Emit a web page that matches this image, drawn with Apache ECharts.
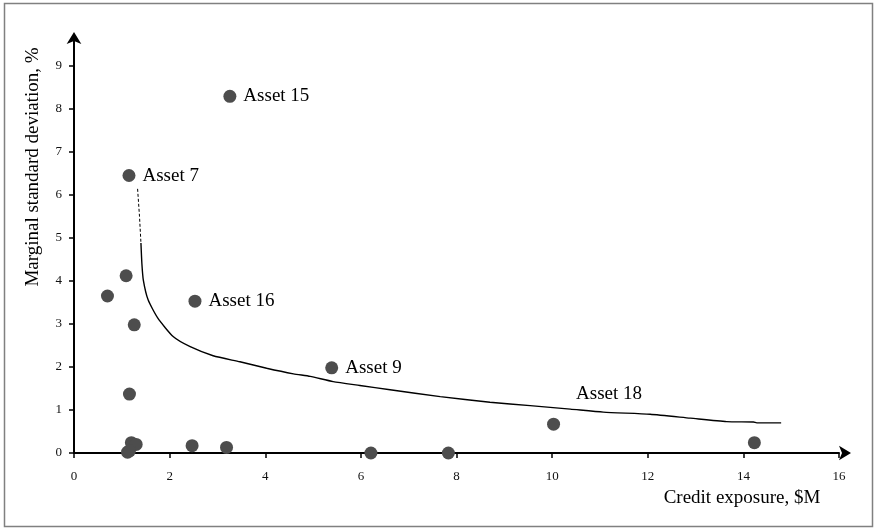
<!DOCTYPE html>
<html>
<head>
<meta charset="utf-8">
<script src="https://cdn.jsdelivr.net/npm/echarts@6/dist/echarts.min.js"></script>
<style>
  html, body { margin: 0; padding: 0; background: #fff; }
  #chart { width: 877px; height: 530px; }
</style>
</head>
<body>
<div id="chart"></div>
<script>
// assets: credit exposure ($M) vs marginal std dev (%)
var assetX = [3.26, 1.15, 2.53, 5.39, 1.09, 0.70, 1.26, 1.16, 1.20, 1.30, 1.12, 1.16, 2.47, 3.19, 6.21, 7.83, 10.03, 14.23]
var assetY = [8.29, 6.45, 3.53, 1.98, 4.12, 3.65, 2.98, 1.37, 0.24, 0.20, 0.02, 0.05, 0.17, 0.13, 0.00, 0.00, 0.67, 0.24]
var assetNames = ['Asset 15', 'Asset 7', 'Asset 16', 'Asset 9', '', '', '', '', '', '', '', '', '', '', '', '', '', '']

// frontier curve, dotted top part then solid
var dashX = [1.33, 1.37, 1.40]
var dashY = [6.14, 5.50, 4.88]
var curveX = [1.40, 1.42, 1.45, 1.55, 1.75, 2.08, 2.43, 2.91, 3.47, 4.03, 4.59, 4.94, 5.42, 5.98, 6.61, 7.66, 8.70, 9.54, 10.38, 11.07, 12.05, 12.89, 13.65, 14.21, 14.28, 14.79]
var curveY = [4.88, 4.40, 4.02, 3.56, 3.14, 2.70, 2.47, 2.26, 2.12, 1.97, 1.84, 1.78, 1.66, 1.57, 1.47, 1.31, 1.18, 1.10, 1.02, 0.95, 0.90, 0.81, 0.73, 0.72, 0.70, 0.70]

var curveLabel = { name: 'Asset 18', x: 10.5, y: 1.37 }

var xTicks = [0, 2, 4, 6, 8, 10, 12, 14, 16]
var yTicks = [0, 1, 2, 3, 4, 5, 6, 7, 8, 9]

function zip(xs, ys) {
  return xs.map(function (x, i) { return [x, ys[i]] })
}

var serif = '"Liberation Serif", "DejaVu Serif", serif'

var chart = echarts.init(document.getElementById('chart'))

var option = {
  animation: false,
  backgroundColor: '#fff',
  grid: {
    left: 74,
    right: 38,
    top: 40,
    bottom: 77
  },
  xAxis: {
    type: 'value',
    min: 0,
    max: 16,
    interval: 2,
    axisLine: {
      lineStyle: { color: '#000', width: 2 },
      symbol: ['none', 'arrow'],
      symbolSize: [11, 12],
      symbolOffset: [0, 12]
    },
    axisTick: { show: true, length: 5, lineStyle: { color: '#000', width: 1.5 } },
    axisLabel: {
      margin: 17,
      fontFamily: serif,
      fontSize: 13,
      color: '#111',
      customValues: xTicks
    },
    splitLine: { show: false }
  },
  yAxis: {
    type: 'value',
    min: 0,
    max: 9.6,
    interval: 1,
    axisLine: {
      show: true,
      lineStyle: { color: '#000', width: 2 },
      symbol: ['none', 'arrow'],
      symbolSize: [11, 12],
      symbolOffset: [0, 8]
    },
    axisTick: { show: true, length: 5, lineStyle: { color: '#000', width: 1.5 }, customValues: yTicks },
    axisLabel: {
      margin: 12,
      fontFamily: serif,
      fontSize: 13,
      color: '#111',
      customValues: yTicks
    },
    splitLine: { show: false }
  },
  graphic: [
    {
      type: 'rect',
      shape: { x: 4.5, y: 3.5, width: 868, height: 523 },
      style: { fill: 'none', stroke: '#808080', lineWidth: 1.5 },
      silent: true
    },
    {
      type: 'text',
      x: 33,
      y: 167,
      rotation: Math.PI / 2,
      style: {
        text: 'Marginal standard deviation, %',
        font: '19px ' + serif,
        fill: '#000',
        textAlign: 'center',
        textVerticalAlign: 'middle'
      }
    },
    {
      type: 'text',
      x: 742,
      y: 498,
      style: {
        text: 'Credit exposure, $M',
        font: '19px ' + serif,
        fill: '#000',
        textAlign: 'center',
        textVerticalAlign: 'middle'
      }
    }
  ],
  series: [
    {
      type: 'line',
      data: zip(dashX, dashY),
      showSymbol: false,
      lineStyle: { color: '#000', width: 1, type: [3, 2] },
      silent: true
    },
    {
      type: 'line',
      data: zip(curveX, curveY),
      showSymbol: false,
      smooth: 0.2,
      lineStyle: { color: '#000', width: 1.4 },
      silent: true
    },
    {
      type: 'scatter',
      symbolSize: 13,
      itemStyle: { color: '#4d4d4d', opacity: 1 },
      data: assetX.map(function (x, i) {
        return { value: [x, assetY[i]], name: assetNames[i] }
      }),
      label: {
        show: true,
        position: 'right',
        distance: 7,
        formatter: function (p) { return p.name },
        fontFamily: serif,
        fontSize: 19,
        color: '#000'
      },
      z: 3
    },
    {
      type: 'scatter',
      symbolSize: 0,
      itemStyle: { opacity: 1 },
      data: [{ value: [curveLabel.x, curveLabel.y], name: curveLabel.name }],
      label: {
        show: true,
        position: 'right',
        distance: 0,
        formatter: function (p) { return p.name },
        fontFamily: serif,
        fontSize: 19,
        color: '#000'
      }
    }
  ]
}

chart.setOption(option)
</script>
</body>
</html>
